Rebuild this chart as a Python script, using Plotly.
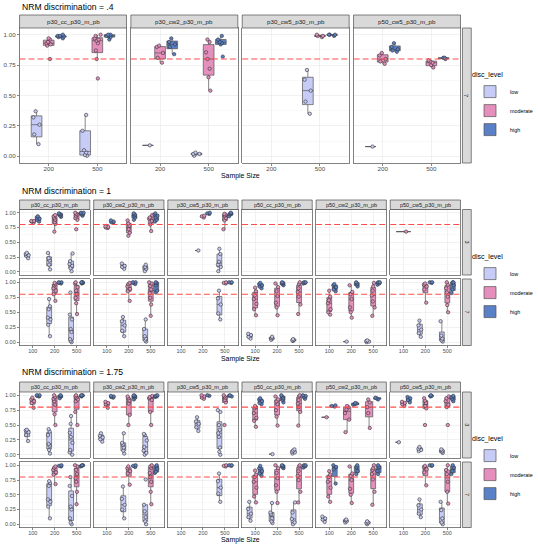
import plotly.graph_objects as go

W, H = 538, 550
THRESHOLD = 0.8
LEVELS = ["low", "moderate", "high"]
FILL = {"low": "#c7ccf6", "moderate": "#e58fbd", "high": "#5a80c8"}

TITLES = ["NRM discrimination = .4", "NRM discrimination = 1", "NRM discrimination = 1.75"]
SIZES_A = ["200", "500"]
SIZES_B = ["100", "200", "500"]
PANELS_A = ["p30_cc_p30_m_pb", "p30_cw2_p30_m_pb", "p30_cw5_p30_m_pb", "p50_cw5_p30_m_pb"]
PANELS_B = ["p30_cc_p30_m_pb", "p30_cw2_p30_m_pb", "p30_cw5_p30_m_pb",
            "p50_cc_p30_m_pb", "p50_cw2_p30_m_pb", "p50_cw5_p30_m_pb"]
ROWS_A = ["7"]
ROWS_B = ["3", "7"]
Y_TICKS = [0, 0.25, 0.5, 0.75, 1.0]
Y_MINOR = [0.125, 0.375, 0.625, 0.875]
X_LABEL = "Sample Size"
LEGEND_TITLE = "disc_level"

# ---------------- NRM discrimination = .4 (row 7) ----------------
d04_7_p30cc = {
    "low": {"200": [0.10, 0.18, 0.26, 0.32, 0.37], "500": [0.005, 0.01, 0.03, 0.05, 0.21, 0.34]},
    "moderate": {"200": [0.80, 0.91, 0.92, 0.93, 0.94, 0.96, 0.97],
                 "500": [0.64, 0.80, 0.87, 0.93, 0.95, 0.96, 0.97, 0.99, 1.0]},
    "high": {"200": [0.97, 0.98, 0.985, 0.99, 0.99, 1.0], "500": [0.96, 0.98, 0.99, 0.99, 1.0, 1.0]},
}
d04_7_p30cw2 = {
    "low": {"200": [0.09], "500": [0.005, 0.02, 0.02, 0.03]},
    "moderate": {"200": [0.77, 0.81, 0.85, 0.90, 0.91], "500": [0.54, 0.65, 0.72, 0.80, 0.855, 0.94, 0.96]},
    "high": {"200": [0.84, 0.90, 0.92, 0.94, 0.97], "500": [0.82, 0.92, 0.93, 0.94, 0.96, 0.99]},
}
d04_7_p30cw5 = {
    "low": {"500": [0.35, 0.45, 0.54, 0.63, 0.71]},
    "moderate": {"500": [0.98, 0.99, 0.99, 1.0]},
    "high": {"500": [0.99, 1.0, 1.0, 1.0]},
}
d04_7_p50cw5 = {
    "low": {"200": [0.08]},
    "moderate": {"200": [0.76, 0.78, 0.80, 0.83, 0.85], "500": [0.73, 0.75, 0.77, 0.78, 0.79]},
    "high": {"200": [0.86, 0.87, 0.88, 0.90, 0.93], "500": [0.80, 0.81, 0.81]},
}

# ---------------- NRM discrimination = 1, row 3 ----------------
d1_3_p30cc = {
    "low": {"100": [0.23, 0.27, 0.28, 0.30, 0.32], "200": [0.04, 0.12, 0.19, 0.23, 0.32],
            "500": [0.01, 0.06, 0.10, 0.13, 0.18, 0.31]},
    "moderate": {"100": [0.83, 0.85, 0.86, 0.86], "200": [0.68, 0.81, 0.84, 0.88, 0.91, 0.94, 0.96],
                 "500": [0.72, 0.88, 0.91, 0.95, 0.97, 0.98, 1.0]},
    "high": {"100": [0.85, 0.88, 0.90, 0.92, 0.94], "200": [0.93, 0.95, 0.97, 0.98, 0.99],
             "500": [0.95, 0.97, 0.98, 0.99, 1.0, 1.0]},
}
d1_3_p30cw2 = {
    "low": {"200": [0.05, 0.08, 0.10, 0.14], "500": [0.01, 0.05, 0.08, 0.12]},
    "moderate": {"100": [0.74, 0.75, 0.76, 0.77], "200": [0.61, 0.66, 0.72, 0.78, 0.82, 0.87],
                 "500": [0.69, 0.80, 0.86, 0.90, 0.92, 0.96]},
    "high": {"100": [0.83, 0.84, 0.85, 0.87], "200": [0.88, 0.92, 0.95, 0.97, 0.99],
             "500": [0.85, 0.88, 0.92, 0.95, 0.97, 0.99]},
}
d1_3_p30cw5 = {
    "low": {"200": [0.36], "500": [0.01, 0.08, 0.12, 0.17, 0.30, 0.39]},
    "moderate": {"200": [0.92, 0.94, 0.95], "500": [0.72, 0.87, 0.91, 0.95, 0.97, 0.98]},
    "high": {"200": [0.98, 0.99, 1.0], "500": [0.94, 0.97, 0.98, 0.99, 1.0]},
}
d1_3_p50cc = {}
d1_3_p50cw2 = {}
d1_3_p50cw5 = {"moderate": {"100": [0.68]}}

# ---------------- NRM discrimination = 1, row 7 ----------------
d1_7_p30cc = {
    "low": {"200": [0.10, 0.29, 0.38, 0.41, 0.55, 0.60, 0.72],
            "500": [0.0, 0.02, 0.05, 0.17, 0.22, 0.38, 0.46, 0.83]},
    "moderate": {"200": [0.69, 0.80, 0.86, 0.90, 0.95, 0.97, 0.99],
                 "500": [0.47, 0.65, 0.74, 0.80, 0.86, 0.92, 0.98, 1.0]},
    "high": {"200": [0.98, 0.99, 1.0, 1.0], "500": [0.98, 0.99, 1.0, 1.0, 1.0]},
}
d1_7_p30cw2 = {
    "low": {"200": [0.10, 0.19, 0.28, 0.35, 0.42], "500": [0.01, 0.03, 0.06, 0.10, 0.22, 0.38]},
    "moderate": {"200": [0.69, 0.85, 0.89, 0.93, 0.97, 0.99],
                 "500": [0.44, 0.63, 0.74, 0.82, 0.88, 0.94, 0.98, 1.0]},
    "high": {"200": [0.97, 0.99, 1.0, 1.0], "500": [0.83, 0.86, 0.95, 0.99, 1.0]},
}
d1_7_p30cw5 = {
    "low": {"500": [0.38, 0.48, 0.63, 0.73, 0.86]},
    "moderate": {"500": [0.98, 0.99, 1.0]},
    "high": {"500": [0.99, 1.0, 1.0]},
}
d1_7_p50cc = {
    "low": {"100": [0.06, 0.09, 0.12, 0.14], "200": [0.04, 0.06, 0.07, 0.09], "500": [0.02, 0.03, 0.04, 0.05]},
    "moderate": {"100": [0.45, 0.55, 0.64, 0.72, 0.78, 0.85, 0.91],
                 "200": [0.45, 0.58, 0.66, 0.77, 0.85, 0.92, 0.98],
                 "500": [0.47, 0.63, 0.76, 0.84, 0.90, 0.97, 1.0]},
    "high": {"100": [0.90, 0.93, 0.95, 0.97, 0.99], "200": [0.95, 0.97, 0.99, 1.0],
             "500": [0.98, 0.99, 1.0, 1.0]},
}
d1_7_p50cw2 = {
    "low": {"200": [0.01], "500": [0.0, 0.01, 0.02, 0.03]},
    "moderate": {"100": [0.46, 0.50, 0.55, 0.65, 0.70, 0.76, 0.86],
                 "200": [0.41, 0.50, 0.58, 0.72, 0.80, 0.84, 0.95],
                 "500": [0.44, 0.58, 0.68, 0.78, 0.86, 0.93, 0.99]},
    "high": {"100": [0.85, 0.88, 0.92, 0.95, 0.97], "200": [0.93, 0.96, 0.98, 1.0],
             "500": [0.96, 0.98, 1.0, 1.0]},
}
d1_7_p50cw5 = {
    "low": {"200": [0.09, 0.15, 0.21, 0.28, 0.36], "500": [0.01, 0.03, 0.06, 0.11, 0.35]},
    "moderate": {"200": [0.66, 0.88, 0.93, 0.96, 0.98], "500": [0.50, 0.62, 0.76, 0.83, 0.90, 0.96, 1.0]},
    "high": {"200": [0.99, 1.0, 1.0], "500": [0.82, 0.88, 0.95, 1.0, 1.0]},
}

# ---------------- NRM discrimination = 1.75, row 3 ----------------
d175_3_p30cc = {
    "low": {"100": [0.23, 0.33, 0.38, 0.41, 0.42], "200": [0.02, 0.08, 0.15, 0.18, 0.33, 0.39, 0.43],
            "500": [0.0, 0.04, 0.08, 0.20, 0.30, 0.37, 0.52, 0.65]},
    "moderate": {"100": [0.79, 0.87, 0.90, 0.93, 0.96], "200": [0.50, 0.68, 0.84, 0.90, 0.94, 0.97, 1.0],
                 "500": [0.50, 0.72, 0.90, 0.93, 0.96, 0.98, 1.0]},
    "high": {"100": [0.98, 0.99, 1.0, 1.0], "200": [0.95, 0.98, 0.99, 1.0], "500": [0.98, 0.99, 1.0, 1.0]},
}
d175_3_p30cw2 = {
    "low": {"100": [0.22, 0.26, 0.29, 0.32, 0.36], "200": [0.02, 0.07, 0.12, 0.17, 0.20, 0.36],
            "500": [0.0, 0.03, 0.07, 0.13, 0.24, 0.33, 0.35]},
    "moderate": {"100": [0.79, 0.85, 0.87, 0.89], "200": [0.50, 0.67, 0.86, 0.91, 0.95, 0.98],
                 "500": [0.50, 0.72, 0.92, 0.95, 0.97, 0.99]},
    "high": {"100": [0.96, 0.97, 0.98, 0.99], "200": [0.93, 0.96, 0.98, 0.99, 1.0],
             "500": [0.97, 0.98, 0.99, 1.0]},
}
d175_3_p30cw5 = {
    "low": {"200": [0.40, 0.46, 0.52, 0.56, 0.63], "500": [0.0, 0.05, 0.12, 0.30, 0.36, 0.42, 0.50, 0.72, 0.75]},
    "moderate": {"200": [0.94, 0.96, 0.98, 1.0], "500": [0.50, 0.88, 0.92, 0.96, 0.98, 1.0]},
    "high": {"200": [0.99, 1.0], "500": [0.98, 0.99, 1.0]},
}
d175_3_p50cc = {
    "low": {"200": [0.01], "500": [0.02, 0.04, 0.05, 0.07, 0.09]},
    "moderate": {"100": [0.47, 0.57, 0.62, 0.70, 0.78, 0.80, 0.82],
                 "200": [0.49, 0.64, 0.75, 0.85, 0.90, 0.93, 0.98],
                 "500": [0.49, 0.72, 0.80, 0.86, 0.92, 0.98, 1.0]},
    "high": {"100": [0.85, 0.87, 0.90, 0.93, 0.95], "200": [0.88, 0.92, 0.95, 0.98, 1.0],
             "500": [0.94, 0.97, 0.99, 1.0]},
}
d175_3_p50cw2 = {
    "moderate": {"100": [0.63], "200": [0.38, 0.59, 0.70, 0.76, 0.80, 0.82], "500": [0.45, 0.70, 0.80, 0.88, 0.93]},
    "high": {"100": [0.81, 0.82, 0.83], "200": [0.84, 0.85, 0.86, 0.87], "500": [0.93, 0.95, 0.96]},
}
d175_3_p50cw5 = {
    "low": {"100": [0.21], "200": [0.06, 0.08, 0.10, 0.13], "500": [0.03, 0.05, 0.07, 0.09]},
    "moderate": {"100": [0.82, 0.85, 0.87, 0.89], "200": [0.50, 0.78, 0.82, 0.87, 0.91, 0.95],
                 "500": [0.50, 0.80, 0.84, 0.90, 0.95, 0.98]},
    "high": {"100": [0.88, 0.92, 0.95, 0.97], "200": [0.98, 0.99, 1.0], "500": [0.90, 0.94, 0.97, 0.99]},
}

# ---------------- NRM discrimination = 1.75, row 7 ----------------
d175_7_p30cc = {
    "low": {"200": [0.10, 0.30, 0.38, 0.42, 0.65, 0.70, 0.73],
            "500": [0.0, 0.03, 0.10, 0.25, 0.30, 0.48, 0.65, 0.80]},
    "moderate": {"200": [0.68, 0.84, 0.88, 0.92, 0.96, 0.98],
                 "500": [0.34, 0.55, 0.72, 0.78, 0.85, 0.92, 0.98, 1.0]},
    "high": {"200": [0.98, 0.99, 1.0], "500": [0.98, 0.99, 1.0, 1.0]},
}
d175_7_p30cw2 = {
    "low": {"200": [0.10, 0.25, 0.33, 0.43, 0.64], "500": [0.0, 0.05, 0.12, 0.22, 0.33, 0.76]},
    "moderate": {"200": [0.67, 0.86, 0.90, 0.95, 0.98],
                 "500": [0.34, 0.55, 0.72, 0.80, 0.87, 0.95, 0.98, 1.0]},
    "high": {"200": [0.97, 0.99, 1.0], "500": [0.87, 0.89, 0.94, 0.98, 1.0]},
}
d175_7_p30cw5 = {
    "low": {"500": [0.38, 0.52, 0.62, 0.73, 0.86]},
    "moderate": {"500": [0.98, 0.99, 1.0]},
    "high": {"500": [0.99, 1.0, 1.0]},
}
d175_7_p50cc = {
    "low": {"100": [0.06, 0.12, 0.18, 0.26, 0.38], "200": [0.02, 0.05, 0.10, 0.17, 0.20, 0.36],
            "500": [0.0, 0.03, 0.09, 0.20, 0.37]},
    "moderate": {"100": [0.37, 0.47, 0.62, 0.72, 0.80, 0.84, 0.91],
                 "200": [0.36, 0.55, 0.66, 0.78, 0.87, 0.95, 1.0],
                 "500": [0.37, 0.55, 0.75, 0.82, 0.90, 0.98, 1.0]},
    "high": {"100": [0.82, 0.86, 0.90, 0.95, 0.99], "200": [0.95, 0.97, 0.99, 1.0],
             "500": [0.96, 0.98, 1.0, 1.0]},
}
d175_7_p50cw2 = {
    "low": {"100": [0.04, 0.08, 0.10, 0.13], "200": [0.03, 0.05, 0.07, 0.08], "500": [0.0, 0.02, 0.03, 0.05]},
    "moderate": {"100": [0.38, 0.47, 0.62, 0.72, 0.80, 0.84, 0.90],
                 "200": [0.36, 0.50, 0.60, 0.75, 0.82, 0.86, 0.98],
                 "500": [0.33, 0.55, 0.76, 0.85, 0.92, 0.95, 1.0]},
    "high": {"100": [0.69, 0.93, 0.97, 1.0], "200": [0.85, 0.90, 0.97, 1.0], "500": [0.85, 0.90, 0.97, 1.0]},
}
d175_7_p50cw5 = {
    "low": {"200": [0.12, 0.18, 0.25, 0.32, 0.42], "500": [0.0, 0.03, 0.10, 0.24, 0.38]},
    "moderate": {"200": [0.66, 0.88, 0.93, 0.97, 0.99], "500": [0.35, 0.55, 0.72, 0.85, 0.92, 1.0]},
    "high": {"200": [0.99, 1.0, 1.0], "500": [0.85, 0.90, 0.96, 1.0]},
}

DATA_A = [[d04_7_p30cc, d04_7_p30cw2, d04_7_p30cw5, d04_7_p50cw5]]
DATA_B = [[d1_3_p30cc, d1_3_p30cw2, d1_3_p30cw5, d1_3_p50cc, d1_3_p50cw2, d1_3_p50cw5],
          [d1_7_p30cc, d1_7_p30cw2, d1_7_p30cw5, d1_7_p50cc, d1_7_p50cw2, d1_7_p50cw5]]
DATA_C = [[d175_3_p30cc, d175_3_p30cw2, d175_3_p30cw5, d175_3_p50cc, d175_3_p50cw2, d175_3_p50cw5],
          [d175_7_p30cc, d175_7_p30cw2, d175_7_p30cw5, d175_7_p50cc, d175_7_p50cw2, d175_7_p50cw5]]

# ---------------- layout geometry (pixels) ----------------
SECTIONS = [
    dict(title=TITLES[0], sizes=SIZES_A, panels=PANELS_A, rows=ROWS_A, data=DATA_A,
         title_y=7, strip=(15, 28), row_px=[(28, 163)], xtitle_y=176, legend_y=68,
         gap=4.5, fs_strip=6.2, fs_tick=6.2, legend="legend"),
    dict(title=TITLES[1], sizes=SIZES_B, panels=PANELS_B, rows=ROWS_B, data=DATA_B,
         title_y=191, strip=(200, 209.5), row_px=[(209.5, 275), (279, 345.5)], xtitle_y=359, legend_y=250,
         gap=4, fs_strip=5.5, fs_tick=5.5, legend="legend2"),
    dict(title=TITLES[2], sizes=SIZES_B, panels=PANELS_B, rows=ROWS_B, data=DATA_C,
         title_y=372, strip=(382, 392), row_px=[(392, 458), (462, 527.5)], xtitle_y=540, legend_y=432,
         gap=4, fs_strip=5.5, fs_tick=5.5, legend="legend3"),
]
LEFT, RIGHT = 20, 471
RSTRIP = (473, 482)
FONT = "Liberation Sans, Arial, sans-serif"
BORDER = "#4d4d4d"


def px(x):
    return x / W


def py(y):
    return 1 - y / H


fig = go.Figure()
layout = {}
shapes = []
annotations = []
k = 0
for sec in SECTIONS:
    ncol = len(sec["panels"])
    colw = (RIGHT - LEFT - sec["gap"] * (ncol - 1)) / ncol
    nrow = len(sec["rows"])
    annotations.append(dict(text=sec["title"], x=px(LEFT), y=py(sec["title_y"]), xref="paper", yref="paper",
                            xanchor="left", yanchor="middle", showarrow=False,
                            font=dict(size=8.6, color="#000", family=FONT)))
    annotations.append(dict(text=X_LABEL, x=px((LEFT + RIGHT) / 2), y=py(sec["xtitle_y"]), xref="paper",
                            yref="paper", xanchor="center", yanchor="middle", showarrow=False,
                            font=dict(size=6.9, color="#000", family=FONT)))
    first = True
    for ci in range(ncol):
        x0 = LEFT + ci * (colw + sec["gap"])
        x1 = x0 + colw
        s0, s1 = sec["strip"]
        shapes.append(dict(type="rect", xref="paper", yref="paper", x0=px(x0), x1=px(x1), y0=py(s1), y1=py(s0),
                           fillcolor="#d9d9d9", line=dict(color=BORDER, width=0.7), layer="above"))
        annotations.append(dict(text=sec["panels"][ci], x=px((x0 + x1) / 2), y=py((s0 + s1) / 2), xref="paper",
                                yref="paper", showarrow=False, xanchor="center", yanchor="middle",
                                font=dict(size=sec["fs_strip"], color="#1a1a1a", family=FONT)))
    for ri in range(nrow):
        y0, y1 = sec["row_px"][ri]
        shapes.append(dict(type="rect", xref="paper", yref="paper", x0=px(RSTRIP[0]), x1=px(RSTRIP[1]),
                           y0=py(y1), y1=py(y0), fillcolor="#d9d9d9", line=dict(color=BORDER, width=0.7)))
        annotations.append(dict(text=sec["rows"][ri], x=px(sum(RSTRIP) / 2), y=py((y0 + y1) / 2), xref="paper",
                                yref="paper", showarrow=False, textangle=90, xanchor="center", yanchor="middle",
                                font=dict(size=sec["fs_strip"], color="#1a1a1a", family=FONT)))
        for ci in range(ncol):
            k += 1
            x0 = LEFT + ci * (colw + sec["gap"])
            x1 = x0 + colw
            xa = "xaxis" if k == 1 else f"xaxis{k}"
            ya = "yaxis" if k == 1 else f"yaxis{k}"
            xr = "x" if k == 1 else f"x{k}"
            yr = "y" if k == 1 else f"y{k}"
            n = len(sec["sizes"])
            bottom = ri == nrow - 1
            layout[xa] = dict(domain=[px(x0), px(x1)], anchor=yr, type="category",
                              categoryorder="array", categoryarray=sec["sizes"],
                              range=[-0.6, n - 0.4], showgrid=True, gridcolor="#ebebeb", gridwidth=0.7,
                              showline=True, mirror=True, linecolor=BORDER, linewidth=0.7,
                              zeroline=False, showticklabels=bottom,
                              ticks="outside" if bottom else "", ticklen=2, tickcolor="#333",
                              tickwidth=0.6, ticklabelstandoff=-2,
                              tickfont=dict(size=sec["fs_tick"], color="#4d4d4d", family=FONT))
            layout[ya] = dict(domain=[py(y1), py(y0)], anchor=xr, range=[-0.055, 1.055],
                              tickvals=Y_TICKS, tickformat=".2f", showgrid=True, gridcolor="#ebebeb",
                              gridwidth=0.7, zeroline=False, showline=True, mirror=True, linecolor=BORDER,
                              linewidth=0.7, showticklabels=(ci == 0), ticks="outside" if ci == 0 else "",
                              ticklen=2, tickcolor="#333", tickwidth=0.6,
                              tickfont=dict(size=sec["fs_tick"], color="#4d4d4d", family=FONT),
                              minor=dict(tickvals=Y_MINOR, showgrid=True, gridcolor="#f4f4f4",
                                         gridwidth=0.5, ticks=""))
            shapes.append(dict(type="line", xref=f"{xr} domain", yref=yr, x0=0, x1=1,
                               y0=THRESHOLD, y1=THRESHOLD,
                               line=dict(color="#ff4d4d", width=1.1, dash="6px,3px"), layer="above"))
            data = sec["data"][ri][ci]
            for lev in LEVELS:
                xs, ys = [], []
                for s in sec["sizes"]:
                    vals = data.get(lev, {}).get(s, [])
                    xs += [s] * len(vals)
                    ys += vals
                if not ys:
                    continue
                fig.add_trace(go.Box(
                    x=xs, y=ys, name=lev, xaxis=xr, yaxis=yr, offsetgroup=lev, legendgroup=lev,
                    legend=sec["legend"], showlegend=first, fillcolor=FILL[lev],
                    line=dict(color="#555555", width=0.7), whiskerwidth=0,
                    boxpoints="all", jitter=0.7, pointpos=0,
                    marker=dict(size=3.4, color=FILL[lev], line=dict(color="#333333", width=0.6)),
                ))
            first = False

for sec in SECTIONS:
    layout[sec["legend"]] = dict(x=px(481), y=py(sec["legend_y"]), xanchor="left", yanchor="top",
                                 bgcolor="rgba(0,0,0,0)", tracegroupgap=0, itemwidth=30,
                                 font=dict(size=5.4, color="#000", family=FONT),
                                 title=dict(text=LEGEND_TITLE, font=dict(size=7, color="#000", family=FONT)))

fig.update_layout(width=W, height=H, margin=dict(l=0, r=0, t=0, b=0), autosize=False,
                  paper_bgcolor="white", plot_bgcolor="white", boxmode="group",
                  boxgap=0.25, boxgroupgap=0.12, shapes=shapes, annotations=annotations,
                  hovermode=False, font=dict(family=FONT), **layout)
fig.write_html("out.html", config={"displayModeBar": False, "staticPlot": True},
               post_script="document.body.style.margin='0';document.body.style.overflow='hidden';")
